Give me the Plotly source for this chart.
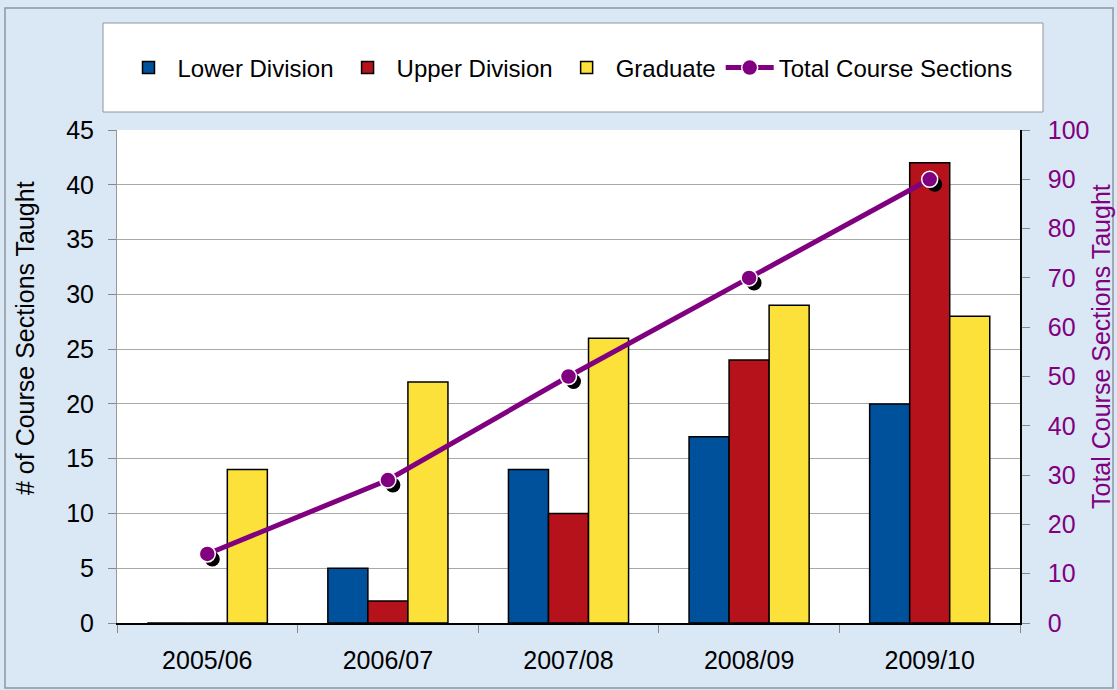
import plotly.graph_objects as go

# data
years = ["2005/06", "2006/07", "2007/08", "2008/09", "2009/10"]
lower_division = [0, 5, 14, 17, 20]
upper_division = [0, 2, 10, 24, 42]
graduate = [14, 22, 26, 29, 28]
total_sections = [14, 29, 50, 70, 90]

BLUE = "#00519B"
RED = "#B5121B"
YELLOW = "#FDE13B"
PURPLE = "#800080"
FONT = "Liberation Sans, Arial, sans-serif"

W, H = 1117, 690
L, R, T, B = 117, 97, 130, 67
pw, ph = W - L - R, H - T - B


def px_x(p):
    return (p - L) / pw


def px_y(p):
    return (H - B - p) / ph


fig = go.Figure()

bar_line = dict(color="black", width=1.5)
fig.add_trace(go.Bar(x=years, y=lower_division, name="Lower Division",
                     marker=dict(color=BLUE, line=bar_line)))
fig.add_trace(go.Bar(x=years, y=upper_division, name="Upper Division",
                     marker=dict(color=RED, line=bar_line)))
fig.add_trace(go.Bar(x=years, y=graduate, name="Graduate",
                     marker=dict(color=YELLOW, line=bar_line)))

# drop shadow under the markers, drawn on slightly shifted hidden axes
fig.add_trace(go.Scatter(x=years, y=total_sections, mode="markers",
                         marker=dict(color="black", size=15),
                         xaxis="x2", yaxis="y2", showlegend=False,
                         hoverinfo="skip"))

fig.add_trace(go.Scatter(x=years, y=total_sections, name="Total Course Sections",
                         mode="lines+markers",
                         line=dict(color=PURPLE, width=5),
                         marker=dict(color=PURPLE, size=16,
                                     line=dict(color="white", width=1.5)),
                         xaxis="x3", yaxis="y3"))

shift_x = 5 / (pw / len(years))
shift_y = 5 / (ph / 100)

fig.update_layout(
    width=W, height=H,
    margin=dict(l=L, r=R, t=T, b=B),
    paper_bgcolor="#DAE7F5",
    plot_bgcolor="white",
    font=dict(family=FONT, size=22, color="black"),
    barmode="group",
    bargap=0.335,
    bargroupgap=0,
    showlegend=True,
    legend=dict(orientation="h", x=0.5, xanchor="center",
                y=px_y(68), yanchor="middle",
                bgcolor="rgba(0,0,0,0)", font=dict(size=24),
                itemwidth=48, traceorder="normal"),
    xaxis=dict(type="category", range=[-0.5, 4.5],
               showline=True, linecolor="black", linewidth=1.5,
               ticks="outside", tickson="boundaries", ticklen=8,
               tickcolor="#888888", showgrid=False,
               ticklabelstandoff=14, tickfont=dict(size=25)),
    xaxis2=dict(type="category", overlaying="x", visible=False,
                range=[-0.5 - shift_x, 4.5 - shift_x]),
    xaxis3=dict(type="category", overlaying="x", visible=False,
                range=[-0.5, 4.5]),
    yaxis=dict(range=[0, 45], dtick=5,
               showline=True, linecolor="#999999", linewidth=1,
               ticks="outside", ticklen=8, tickcolor="#888888",
               gridcolor="#A8A8A8", gridwidth=1, zeroline=False,
               ticklabelstandoff=9, tickfont=dict(size=25)),
    yaxis2=dict(overlaying="y", visible=False,
                range=[shift_y, 100 + shift_y]),
    yaxis3=dict(overlaying="y", side="right", range=[0, 100], dtick=10,
                showline=True, linecolor="black", linewidth=1.5,
                ticks="outside", ticklen=8, tickcolor="#888888",
                showgrid=False, zeroline=False,
                ticklabelstandoff=13, tickfont=dict(size=25, color=PURPLE)),
    annotations=[
        dict(text="# of Course Sections Taught", textangle=-90,
             xref="paper", yref="paper", x=px_x(25), y=px_y(338),
             xanchor="center", yanchor="middle", showarrow=False,
             font=dict(size=25, color="black")),
        dict(text="Total Course Sections Taught", textangle=-90,
             xref="paper", yref="paper", x=px_x(1101), y=px_y(347),
             xanchor="center", yanchor="middle", showarrow=False,
             font=dict(size=25, color=PURPLE)),
    ],
    shapes=[
        # outer chart border
        dict(type="rect", xref="paper", yref="paper",
             x0=px_x(5), x1=px_x(1113), y0=px_y(688), y1=px_y(8),
             line=dict(color="#8C96A0", width=1.5), fillcolor="rgba(0,0,0,0)",
             layer="below"),
        # legend box
        dict(type="rect", xref="paper", yref="paper",
             x0=px_x(103), x1=px_x(1043), y0=px_y(112), y1=px_y(23),
             line=dict(color="#8C96A0", width=1), fillcolor="white",
             layer="below"),
    ],
)

fig.write_html("out.html", config={"displayModeBar": False},
               post_script="document.body.style.margin='0px';")
